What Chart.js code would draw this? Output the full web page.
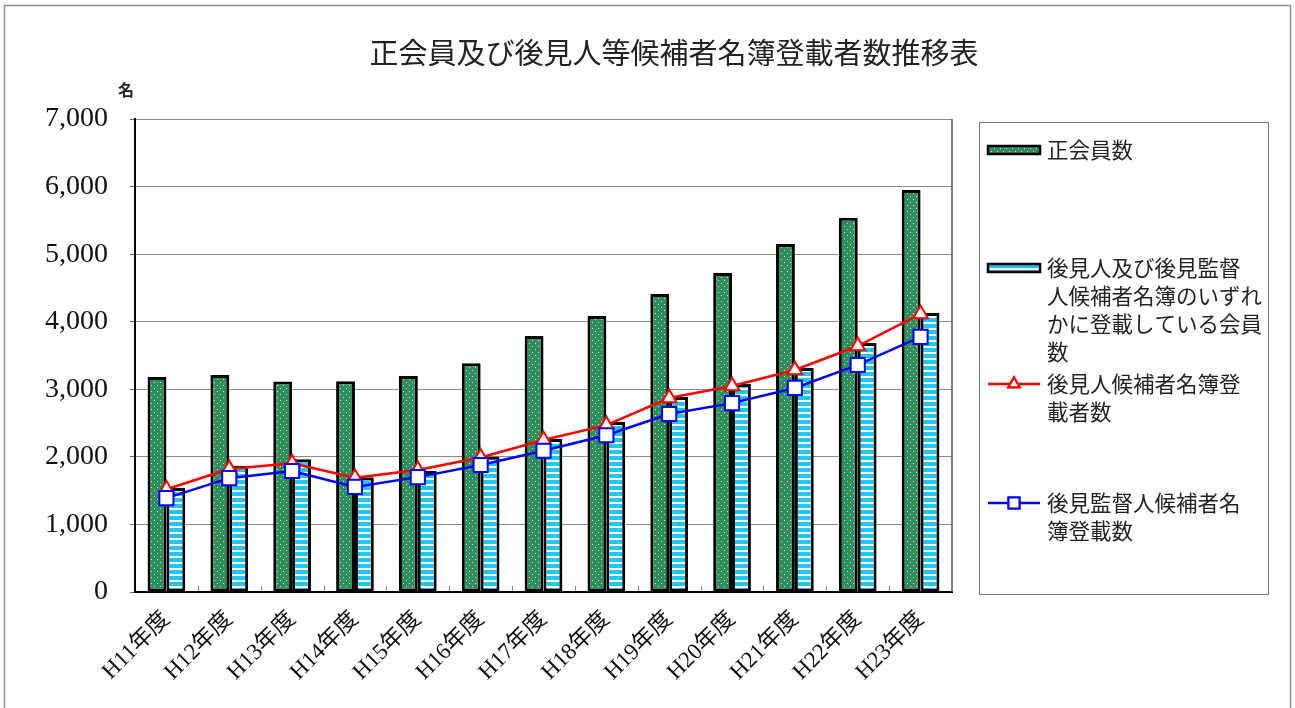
<!DOCTYPE html>
<html lang="ja">
<head>
<meta charset="utf-8">
<title>正会員及び後見人等候補者名簿登載者数推移表</title>
<script src="https://cdn.jsdelivr.net/npm/chart.js@4.4.1/dist/chart.umd.min.js"></script>
<style>
  html, body { margin: 0; padding: 0; background: #fff; }
  #wrap { position: relative; width: 1295px; height: 708px; }
</style>
</head>
<body>
<div id="wrap"><canvas id="chart" width="1295" height="708"></canvas></div>
<script>
// Fiscal years (Heisei)
const fiscalYears = ['H11年度', 'H12年度', 'H13年度', 'H14年度', 'H15年度', 'H16年度', 'H17年度',
                     'H18年度', 'H19年度', 'H20年度', 'H21年度', 'H22年度', 'H23年度'];

// 正会員数
const regularMembers = [3180, 3210, 3115, 3120, 3195, 3385, 3790, 4085, 4410, 4720, 5150, 5540, 5950];
// 後見人及び後見監督人候補者名簿のいずれかに登載している会員数
const listedMembers = [1540, 1865, 1965, 1700, 1790, 2000, 2265, 2515, 2885, 3080, 3315, 3685, 4130];
// 後見人候補者名簿登載者数
const guardianCandidates = [1520, 1820, 1905, 1690, 1805, 1990, 2250, 2470, 2870, 3050, 3285, 3640, 4115];
// 後見監督人候補者名簿登載数
const supervisorCandidates = [1390, 1685, 1790, 1555, 1700, 1880, 2090, 2320, 2635, 2795, 3020, 3360, 3775];

// Value axis
const yTickLabels = ['0', '1,000', '2,000', '3,000', '4,000', '5,000', '6,000', '7,000'];
const yMax = 7000;
const yStep = 1000;

// Legend text, one entry per line
const legendLines = [
  ['正会員数'],
  ['後見人及び後見監督', '人候補者名簿のいずれ', 'かに登載している会員', '数'],
  ['後見人候補者名簿登', '載者数'],
  ['後見監督人候補者名', '簿登載数']
];
const chartTitle = '正会員及び後見人等候補者名簿登載者数推移表';
const unitLabel = '名';

const CJK = '"Noto Sans CJK JP"';
const SERIF_CJK = '"Liberation Serif", "Noto Sans CJK JP"';

// Fill patterns: dotted green and striped cyan
function dotPattern(ctx) {
  const c = document.createElement('canvas');
  c.width = 6; c.height = 6;
  const g = c.getContext('2d');
  g.fillStyle = '#2f8f5c';
  g.fillRect(0, 0, 6, 6);
  g.fillStyle = '#cfe6d6';
  g.fillRect(1, 1, 1, 1);
  g.fillRect(4, 4, 1, 1);
  return ctx.createPattern(c, 'repeat');
}
function stripePattern(ctx) {
  const c = document.createElement('canvas');
  c.width = 4; c.height = 6;
  const g = c.getContext('2d');
  g.fillStyle = '#ffffff';
  g.fillRect(0, 0, 4, 6);
  g.fillStyle = '#1ec8f0';
  g.fillRect(0, 0, 4, 4);
  return ctx.createPattern(c, 'repeat');
}

const canvas = document.getElementById('chart');
const ctx = canvas.getContext('2d');
const greenFill = dotPattern(ctx);
const cyanFill = stripePattern(ctx);

const PLOT = { left: 135, top: 119, right: 952, bottom: 592 };

const decorations = {
  id: 'decorations',
  beforeDraw(chart) {
    const c = chart.ctx;
    c.save();
    c.fillStyle = '#ffffff';
    c.fillRect(0, 0, chart.width, chart.height);
    c.strokeStyle = '#8e8e8e';
    c.lineWidth = 1.5;
    c.strokeRect(4.5, 5.5, chart.width - 9, chart.height + 10);
    c.restore();
  },
  afterDraw(chart) {
    const c = chart.ctx;
    const area = chart.chartArea;
    const xs = chart.scales.x;
    c.save();

    // right edge of the plot
    c.strokeStyle = '#555';
    c.lineWidth = 1.5;
    c.beginPath();
    c.moveTo(area.right, area.top);
    c.lineTo(area.right, area.bottom);
    c.stroke();

    // small inward tick marks between categories
    c.strokeStyle = '#888';
    c.lineWidth = 1;
    for (let i = 1; i < fiscalYears.length; i++) {
      const x = Math.round(xs.getPixelForValue(i - 0.5)) + 0.5;
      c.beginPath();
      c.moveTo(x, area.bottom - 6);
      c.lineTo(x, area.bottom - 1);
      c.stroke();
    }

    // title
    c.fillStyle = '#222';
    c.font = '29px ' + CJK;
    c.textAlign = 'center';
    c.textBaseline = 'middle';
    c.fillText(chartTitle, 674, 53);

    // unit
    c.font = 'bold 16px ' + CJK;
    c.fillText(unitLabel, 126, 90);

    // legend box
    c.strokeStyle = '#7a7a7a';
    c.lineWidth = 1;
    c.strokeRect(979.5, 122.5, 289, 472);

    const sx = 988, sw = 52, tx = 1047, lh = 28;
    const firstY = [150, 268, 384, 503];
    c.font = '21.5px ' + CJK;
    c.textAlign = 'left';

    legendLines.forEach((lines, k) => {
      const y = firstY[k];
      const ds = chart.data.datasets[k];
      if (k < 2) {
        c.fillStyle = ds.backgroundColor;
        c.fillRect(sx, y - 4, sw, 8);
        c.strokeStyle = '#000';
        c.lineWidth = 2.5;
        c.strokeRect(sx, y - 4, sw, 8);
      } else {
        c.strokeStyle = ds.borderColor;
        c.lineWidth = 2.5;
        c.beginPath();
        c.moveTo(sx, y);
        c.lineTo(sx + sw, y);
        c.stroke();
        Chart.helpers.drawPoint(c, {
          pointStyle: ds.pointStyle,
          radius: k === 2 ? 6.5 : 7.5,
          borderWidth: 2
        }, sx + sw / 2, y);
        c.fillStyle = '#fff';
        c.strokeStyle = ds.borderColor;
        c.lineWidth = 2;
        c.beginPath();
        if (k === 2) {
          const r = 6.5;
          c.moveTo(sx + sw / 2, y - r);
          c.lineTo(sx + sw / 2 + r * 0.866, y + r / 2);
          c.lineTo(sx + sw / 2 - r * 0.866, y + r / 2);
          c.closePath();
        } else {
          c.rect(sx + sw / 2 - 5.5, y - 5.5, 11, 11);
        }
        c.fill();
        c.stroke();
      }
      c.fillStyle = '#222';
      lines.forEach((t, j) => c.fillText(t, tx, y + j * lh));
    });

    c.restore();
  }
};

new Chart(ctx, {
  type: 'bar',
  data: {
    labels: fiscalYears,
    datasets: [
      {
        label: '正会員数',
        data: regularMembers,
        backgroundColor: greenFill,
        borderColor: '#000',
        borderWidth: 3,
        borderSkipped: false,
        order: 2
      },
      {
        label: '後見人及び後見監督人候補者名簿のいずれかに登載している会員数',
        data: listedMembers,
        backgroundColor: cyanFill,
        borderColor: '#000',
        borderWidth: 3,
        borderSkipped: false,
        order: 3
      },
      {
        type: 'line',
        label: '後見人候補者名簿登載者数',
        data: guardianCandidates,
        borderColor: '#ff0000',
        borderWidth: 2.5,
        tension: 0,
        fill: false,
        pointStyle: 'triangle',
        pointRadius: 8.5,
        pointBorderWidth: 2,
        pointBackgroundColor: '#ffffff',
        pointBorderColor: '#ff0000',
        order: 1
      },
      {
        type: 'line',
        label: '後見監督人候補者名簿登載数',
        data: supervisorCandidates,
        borderColor: '#0000ff',
        borderWidth: 2.5,
        tension: 0,
        fill: false,
        pointStyle: 'rect',
        pointRadius: 10,
        pointBorderWidth: 2,
        pointBackgroundColor: '#ffffff',
        pointBorderColor: '#0000ff',
        order: 0
      }
    ]
  },
  options: {
    responsive: false,
    animation: false,
    events: [],
    layout: { padding: { top: PLOT.top, right: 1295 - PLOT.right, left: 0, bottom: 0 } },
    datasets: { bar: { categoryPercentage: 0.6, barPercentage: 1.0 } },
    plugins: {
      legend: { display: false },
      title: { display: false },
      tooltip: { enabled: false }
    },
    scales: {
      x: {
        grid: { display: false },
        border: { display: true, color: '#000', width: 2 },
        ticks: {
          autoSkip: false,
          minRotation: 45,
          maxRotation: 45,
          padding: 6,
          color: '#111',
          font: { family: SERIF_CJK, size: 23 }
        },
        afterFit(s) { s.height = 708 - PLOT.bottom; }
      },
      y: {
        min: 0,
        max: yMax,
        grid: { color: '#8a8a8a', lineWidth: 1, tickLength: 5, tickColor: '#666' },
        border: { display: true, color: '#000', width: 2 },
        ticks: {
          stepSize: yStep,
          padding: 22,
          color: '#111',
          font: { family: '"Liberation Serif"', size: 28 },
          callback: (v, i) => yTickLabels[i]
        },
        afterFit(s) { s.width = PLOT.left; }
      }
    }
  },
  plugins: [decorations]
});
</script>
</body>
</html>
